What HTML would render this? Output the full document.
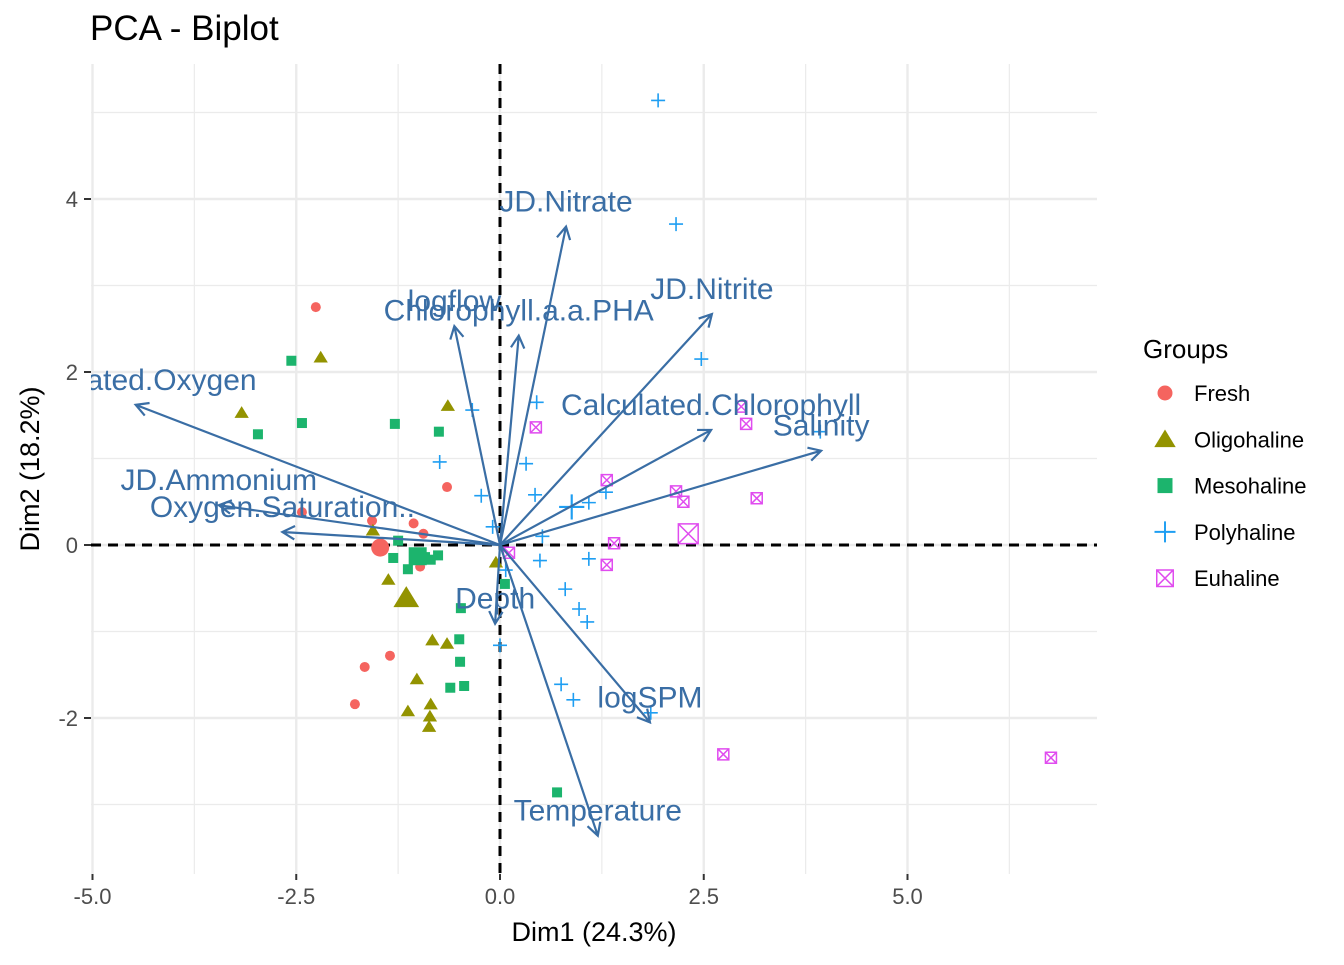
<!DOCTYPE html>
<html><head><meta charset="utf-8"><style>
body{margin:0;background:#fff}
svg{font-family:"Liberation Sans",Arial,sans-serif}
</style></head><body>
<svg id="chart" width="1344" height="960" xmlns="http://www.w3.org/2000/svg">
<defs><clipPath id="pc"><rect x="91" y="64" width="1006" height="810"/></clipPath></defs>
<text x="90" y="40" font-size="35" fill="#000">PCA - Biplot</text>
<g id="grid"></g>
<g id="axes"></g>
<g id="marks" clip-path="url(#pc)"></g>
<text x="594" y="941" font-size="27" text-anchor="middle">Dim1 (24.3%)</text>
<text transform="translate(39,469) rotate(-90)" font-size="27" text-anchor="middle">Dim2 (18.2%)</text>
<g id="legend"></g>
</svg>
<script>
const groups=["Fresh","Oligohaline","Mesohaline","Polyhaline","Euhaline"];
const colors=["#F5645F","#939300","#1CB46D","#1E9EF2","#E04CEF"];
const freshX=[-2.26,-0.65,-2.43,-1.57,-1.06,-0.94,-0.98,-1.66,-1.35,-1.78];
const freshY=[2.75,0.67,0.38,0.28,0.25,0.13,-0.25,-1.41,-1.28,-1.84];
const oligoX=[-2.20,-3.17,-0.64,-1.56,-1.37,-0.83,-0.65,-1.02,-0.85,-1.13,-0.86,-0.87,-0.05];
const oligoY=[2.17,1.53,1.61,0.17,-0.40,-1.10,-1.14,-1.55,-1.84,-1.92,-1.98,-2.10,-0.20];
const mesoX=[-2.56,-2.43,-2.97,-1.29,-0.75,-1.25,-1.31,-1.13,-0.92,-0.85,-0.76,-0.48,-0.50,-0.49,-0.44,-0.61,0.06,0.70];
const mesoY=[2.13,1.41,1.28,1.40,1.31,0.05,-0.15,-0.28,-0.14,-0.17,-0.12,-0.73,-1.09,-1.35,-1.63,-1.65,-0.45,-2.86];
const polyX=[1.94,2.16,2.47,0.45,-0.34,-0.74,0.32,-0.23,0.43,1.09,1.30,3.93,-0.09,0.52,0.49,1.09,0.80,0.97,1.07,0.00,0.07,0.75,0.90,1.85];
const polyY=[5.14,3.71,2.15,1.65,1.56,0.96,0.94,0.57,0.58,0.49,0.61,1.31,0.21,0.10,-0.18,-0.16,-0.51,-0.74,-0.89,-1.16,-0.29,-1.61,-1.79,-1.94];
const euX=[0.44,1.31,2.16,2.25,3.02,2.96,3.15,1.40,0.11,1.31,2.74,6.76];
const euY=[1.36,0.75,0.62,0.50,1.40,1.60,0.54,0.02,-0.09,-0.23,-2.42,-2.46];
const meanX=[-1.47,-1.15,-1.01,0.88,2.31];
const meanY=[-0.03,-0.61,-0.13,0.44,0.13];
const varNames=["Salinity","Calculated.Chlorophyll","JD.Nitrite","JD.Nitrate","Chlorophyll.a.a.PHA","logflow","Saturated.Oxygen","JD.Ammonium","Oxygen.Saturation..","Depth","logSPM","Temperature"];
const varX=[3.94,2.59,2.60,0.81,0.23,-0.56,-4.47,-3.45,-2.67,-0.06,1.84,1.20];
const varY=[1.09,1.33,2.67,3.68,2.42,2.53,1.62,0.46,0.15,-0.91,-2.05,-3.36];
const xTicks=[-5,-2.5,0,2.5,5];
const xTickLabels=["-5.0","-2.5","0.0","2.5","5.0"];
const yTicks=[-2,0,2,4];
const yTickLabels=["-2","0","2","4"];
const xMinor=[-3.75,-1.25,1.25,3.75,6.25];
const yMinor=[-3,-1,1,3,5];

const X=v=>500+v*81.5, Y=v=>545-v*86.5;
const NS="http://www.w3.org/2000/svg";
function mk(tag,attrs,parent){const e=document.createElementNS(NS,tag);for(const k in attrs)e.setAttribute(k,attrs[k]);parent.appendChild(e);return e;}
const grid=document.getElementById('grid'),axes=document.getElementById('axes'),marks=document.getElementById('marks'),legend=document.getElementById('legend');
mk('rect',{x:91,y:64,width:1006,height:810,fill:'#fff'},grid);
xMinor.forEach(v=>{const l=mk('line',{x1:X(v),x2:X(v),y1:64,y2:874,stroke:'#ebebeb','stroke-width':1.2},grid);

});
yMinor.forEach(v=>{const l=mk('line',{x1:91,x2:1097,y1:Y(v),y2:Y(v),stroke:'#ebebeb','stroke-width':1.2},grid);

});
xTicks.forEach((v,i)=>{const l=mk('line',{x1:X(v),x2:X(v),y1:64,y2:874,stroke:'#ebebeb','stroke-width':2.4},grid);


mk('line',{x1:X(v),x2:X(v),y1:874,y2:880,stroke:'#333','stroke-width':2},axes);
const t=mk('text',{x:X(v),y:904,'font-size':22,'text-anchor':'middle',fill:'#4d4d4d'},axes);t.textContent=xTickLabels[i];

});
yTicks.forEach((v,i)=>{const l=mk('line',{x1:91,x2:1097,y1:Y(v),y2:Y(v),stroke:'#ebebeb','stroke-width':2.4},grid);


mk('line',{x1:84,x2:91,y1:Y(v),y2:Y(v),stroke:'#333','stroke-width':2},axes);
const t=mk('text',{x:78,y:Y(v)+8,'font-size':22,'text-anchor':'end',fill:'#4d4d4d'},axes);t.textContent=yTickLabels[i];

});
const z1=mk('line',{x1:X(0),x2:X(0),y1:64,y2:874,stroke:'#000','stroke-width':3,'stroke-dasharray':'10,7'},marks);


const z2=mk('line',{x1:91,x2:1097,y1:Y(0),y2:Y(0),stroke:'#000','stroke-width':3,'stroke-dasharray':'10,7'},marks);



function shape(g,cx,cy,s,p){
  const c=colors[g];let e;
  if(g===0){e=mk('circle',{cx:cx,cy:cy,r:5*s,fill:c},p);}
  else if(g===1){const h=6.5*s;e=mk('polygon',{points:`${cx},${cy-h} ${cx-h*1.1},${cy+h*0.8} ${cx+h*1.1},${cy+h*0.8}`,fill:c},p);}
  else if(g===2){const h=5*s;e=mk('rect',{x:cx-h,y:cy-h,width:2*h,height:2*h,fill:c},p);}
  else if(g===3){const h=7*s;e=mk('path',{d:`M${cx-h},${cy}H${cx+h}M${cx},${cy-h}V${cy+h}`,stroke:c,'stroke-width':1.6*Math.sqrt(s),fill:'none'},p);}
  else {const h=5.5*s;e=mk('path',{d:`M${cx-h},${cy-h}h${2*h}v${2*h}h${-2*h}zM${cx-h},${cy-h}L${cx+h},${cy+h}M${cx+h},${cy-h}L${cx-h},${cy+h}`,stroke:c,'stroke-width':1.5,fill:'none'},p);}
  return e;
}
const allX=[freshX,oligoX,mesoX,polyX,euX], allY=[freshY,oligoY,mesoY,polyY,euY];
allX.forEach((xs,g)=>{xs.forEach((v,i)=>{const e=shape(g,X(v),Y(allY[g][i]),1,marks);

});});
meanX.forEach((v,g)=>{const e=shape(g,X(v),Y(meanY[g]),1.8,marks);

});
varNames.forEach((n,i)=>{
  const x2=X(varX[i]),y2=Y(varY[i]),x1=X(0),y1=Y(0);
  const a=Math.atan2(y2-y1,x2-x1),L=14,w=0.5;
  const d=`M${x1},${y1}L${x2},${y2}M${x2-L*Math.cos(a-w)},${y2-L*Math.sin(a-w)}L${x2},${y2}L${x2-L*Math.cos(a+w)},${y2-L*Math.sin(a+w)}`;
  const p=mk('path',{d:d,stroke:'#3A6EA5','stroke-width':2.2,fill:'none'},marks);
  
  
  const t=mk('text',{x:x2,y:y2-15,'font-size':30,'text-anchor':'middle',fill:'#3A6EA5'},marks);t.textContent=n;
  
  
});
const lt=mk('text',{x:1143,y:358,'font-size':26},legend);lt.textContent='Groups';


groups.forEach((g,i)=>{const y=393+i*46.3;
const s=shape(i,1165,y,1.5,legend);


const t=mk('text',{x:1194,y:y+8,'font-size':22},legend);t.textContent=g;

});
</script>
</body></html>
